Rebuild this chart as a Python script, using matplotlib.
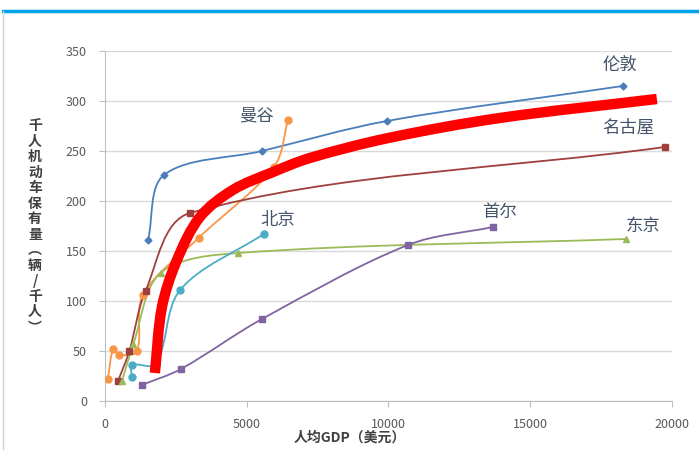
import numpy as np
import matplotlib
matplotlib.use("Agg")
import matplotlib.pyplot as plt
from matplotlib.path import Path
from matplotlib.patches import PathPatch

plt.rcParams['font.family'] = ['Noto Sans CJK SC', 'DejaVu Sans']

# data (GDP per capita, vehicles per 1000 people)
london_x = [1520, 2080, 5540, 9950, 18270]
london_y = [161, 226, 250, 280, 315]
bangkok_x = [100, 290, 500, 1130, 1340, 3300, 5960, 6460]
bangkok_y = [22, 52, 46, 50, 106, 163, 234, 281]
nagoya_x = [460, 860, 1430, 3000, 19750]
nagoya_y = [20, 50, 110, 188, 254]
tokyo_x = [600, 1000, 1960, 4710, 18380]
tokyo_y = [20, 57, 128, 148, 162]
beijing_x = [950, 950, 1800, 2650, 5600]
beijing_y = [24, 36, 37, 111, 167]
seoul_x = [1300, 2680, 5540, 10690, 13690]
seoul_y = [16, 32, 82, 156, 174]
trend_x = [1760, 2010, 2540, 3350, 4510, 5930, 7230, 10000, 13930, 19470]
trend_y = [28, 94, 141, 184, 211, 229, 243, 263, 283, 302]

city_names = ["伦敦", "曼谷", "名古屋", "北京", "首尔", "东京"]
label_x = [18170, 5360, 18450, 6100, 13930, 18980]
label_y = [336, 286, 273, 181, 189, 175]


def smooth(xs, ys):
    # smoothed line like excel: spline pieces as bezier curves,
    # tangents weighted by the on-screen length of each piece
    p = np.column_stack([xs, ys]).astype(float)
    scale = np.array([567 / 20000, 1.0])
    n = len(p)
    d = [np.linalg.norm((p[i + 1] - p[i]) * scale) for i in range(n - 1)]

    def tangent(i):
        a = max(i - 1, 0)
        b = min(i + 1, n - 1)
        length = sum(d[a:b])
        if length == 0:
            return np.zeros(2)
        return (p[b] - p[a]) / length

    verts = [p[0]]
    codes = [Path.MOVETO]
    for i in range(n - 1):
        verts += [p[i] + tangent(i) * d[i] / 3, p[i + 1] - tangent(i + 1) * d[i] / 3, p[i + 1]]
        codes += [Path.CURVE4] * 3
    return Path(verts, codes)


fig = plt.figure(figsize=(6.99, 4.5), dpi=100)
ax = fig.add_axes([0.1502, 0.1089, 0.811, 0.7778])

series = [
    (london_x, london_y, "#4a7ebb", "D", 3.5),
    (bangkok_x, bangkok_y, "#f79646", "o", 5),
    (nagoya_x, nagoya_y, "#a0403e", "s", 5),
    (tokyo_x, tokyo_y, "#9bbb59", "^", 5),
    (beijing_x, beijing_y, "#4bacc6", "o", 5),
    (seoul_x, seoul_y, "#8064a2", "s", 5),
]
for xs, ys, c, m, ms in series:
    ax.add_patch(PathPatch(smooth(xs, ys), facecolor="none", edgecolor=c, lw=1.3, zorder=3))
    ax.plot(xs, ys, linestyle="none", marker=m, markersize=ms, color=c, zorder=4)

ax.add_patch(PathPatch(smooth(trend_x, trend_y), facecolor="none", edgecolor="#ff0000",
                       lw=7.5, capstyle="butt", zorder=5))

for name, lx, ly in zip(city_names, label_x, label_y):
    ax.text(lx, ly, name, ha="center", va="center", fontsize=12.5, color="#44546a", zorder=6)

ax.set_xlim(0, 20000)
ax.set_ylim(0, 350)
ax.set_xticks([0, 5000, 10000, 15000, 20000])
ax.set_yticks(range(0, 351, 50))
ax.grid(axis="y", color="#d9d9d9", lw=1)
ax.set_axisbelow(True)
for s in ["top", "right"]:
    ax.spines[s].set_visible(False)
for s in ["left", "bottom"]:
    ax.spines[s].set_color("#bfbfbf")
ax.tick_params(axis="both", colors="#bfbfbf", labelcolor="#595959", labelsize=9, length=4)
ax.tick_params(axis="y", pad=9)
ax.tick_params(axis="x", pad=8)

fig.text(350 / 699, 1 - 438 / 450, "人均GDP（美元）", ha="center", va="center",
         fontsize=10, fontweight="bold", color="#404040")
fig.text(35 / 699, 1 - 227 / 450, "\n".join("千人机动车保有量︵辆/千人︶"), ha="center", va="center",
         fontsize=10, fontweight="bold", color="#404040", linespacing=1.14)

# slide frame: blue bar on top, grey edge on the left
fig.add_artist(plt.Line2D([3 / 699, 1], [1 - 11 / 450, 1 - 11 / 450], color="#00a2e8", lw=2.5))
fig.add_artist(plt.Line2D([3 / 699, 3 / 699], [0, 1 - 11 / 450], color="#d0d0d0", lw=1))

fig.savefig("out.png", dpi=100)
